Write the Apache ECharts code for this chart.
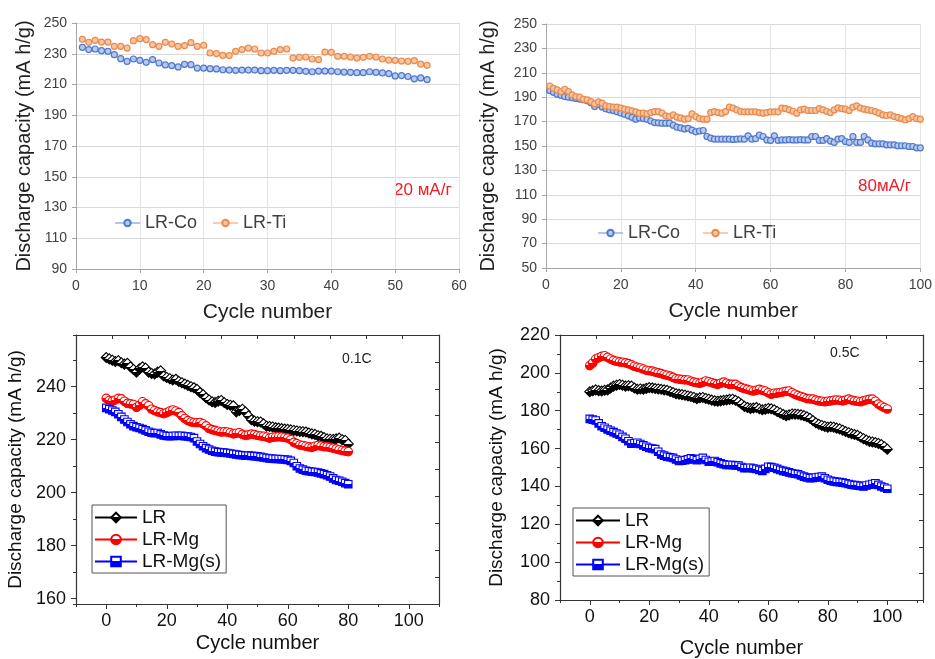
<!DOCTYPE html>
<html>
<head>
<meta charset="utf-8">
<script src="https://cdn.jsdelivr.net/npm/echarts@6/dist/echarts.min.js"></script>
<style>
html, body { margin: 0; padding: 0; background: #fff; }
#chart { width: 935px; height: 659px; }
</style>
</head>
<body>
<div id="chart"></div>
<script>
// top left: 20 mA/g, cycles 1..55
let coLow = [234.2, 232.7, 233.1, 232.0, 231.6, 229.4, 226.8, 225.0, 226.6, 225.7, 224.4, 226.2, 224.0, 222.7, 222.3,
  221.4, 223.1, 222.9, 220.7, 220.7, 220.3, 220.1, 219.6, 219.4, 219.2, 219.4, 219.4, 219.4, 219.0, 219.0,
  219.2, 219.0, 219.2, 219.2, 219.0, 218.6, 218.3, 218.7, 218.7, 218.7, 218.3, 218.1, 217.9, 217.7, 217.7,
  218.3, 217.9, 217.5, 217.1, 215.6, 215.8, 215.2, 213.7, 214.3, 213.2];
let tiLow = [239.4, 237.4, 238.7, 237.6, 237.6, 234.8, 234.8, 233.7, 238.5, 239.8, 239.2, 235.9, 234.8, 237.4, 236.3,
  234.8, 235.3, 237.2, 234.8, 235.5, 230.5, 230.1, 229.0, 228.8, 231.6, 232.7, 233.7, 233.1, 230.5, 230.5,
  231.6, 232.7, 233.1, 227.2, 227.7, 227.9, 226.6, 226.2, 231.1, 230.9, 228.3, 228.3, 227.9, 227.2, 227.7,
  228.3, 227.9, 226.6, 225.9, 225.7, 225.3, 225.1, 225.5, 223.3, 222.5];

// top right: 80 mA/g, cycles 1..100
let coHigh = [195.4, 194.0, 192.5, 191.5, 190.5, 190.0, 189.5, 189.0, 188.5, 188.0, 187.0, 185.5,
  182.3, 184.0, 182.0, 180.5, 179.6, 179.0, 178.0, 177.0, 176.0, 174.7, 173.5, 172.0,
  173.0, 172.5, 172.0, 170.5, 169.2, 169.0, 168.7, 168.7, 168.7, 167.0, 165.4, 164.8,
  164.0, 164.5, 163.0, 161.6, 162.3, 162.7, 157.8, 156.4, 155.6, 155.6, 155.6, 155.6,
  155.6, 155.4, 155.6, 155.8, 155.6, 158.3, 155.6, 156.0, 158.9, 157.8, 155.0, 154.6,
  158.3, 154.6, 155.0, 155.0, 155.2, 155.0, 155.0, 155.2, 155.0, 155.0, 157.8, 157.8,
  154.6, 154.6, 156.1, 154.0, 152.9, 155.6, 156.1, 153.7, 152.9, 157.8, 152.9, 152.9,
  157.8, 155.0, 152.3, 151.8, 151.8, 151.8, 151.0, 151.0, 151.0, 150.2, 150.2, 150.2,
  149.6, 149.6, 148.5, 148.5];
let tiHigh = [199.2, 197.3, 196.0, 194.6, 196.5, 194.6, 191.9, 190.5, 190.0, 188.3, 187.8, 186.4,
  184.5, 186.2, 185.1, 182.9, 182.3, 181.8, 181.8, 181.0, 180.2, 179.6, 178.8, 178.0,
  176.9, 176.9, 176.3, 177.4, 178.2, 178.2, 176.9, 174.7, 174.1, 175.5, 173.6, 173.0,
  172.0, 172.5, 176.3, 174.1, 172.5, 172.0, 172.0, 177.4, 178.2, 177.4, 176.9, 178.2,
  181.8, 181.0, 179.6, 178.2, 178.0, 178.0, 178.0, 178.0, 177.4, 176.9, 177.4, 178.0,
  178.0, 178.0, 181.0, 180.7, 179.6, 178.5, 176.9, 179.6, 180.2, 179.1, 179.1, 179.1,
  180.7, 179.6, 178.5, 177.4, 179.6, 181.2, 180.7, 180.2, 179.1, 181.8, 182.9, 181.0,
  180.2, 179.6, 179.1, 178.2, 176.9, 175.5, 175.0, 175.5, 174.1, 173.3, 172.5, 171.4,
  172.5, 174.1, 172.5, 172.0];

// bottom left: 0.1C, cycles 0..80
let lrSlow = [251.0, 250.5, 250.0, 249.5, 249.8, 249.0, 248.5, 248.8, 247.5, 246.5, 245.5, 246.8, 247.5, 247.0, 245.5,
  245.0, 244.8, 245.5, 246.0, 244.0, 243.5, 243.0, 242.5, 242.8, 242.0, 241.5, 241.0, 240.5, 240.0, 239.6,
  239.0, 237.8, 237.0, 235.8, 235.0, 234.3, 234.0, 234.5, 234.8, 234.0, 233.3, 233.0, 232.8, 230.5, 231.0,
  231.5, 230.5, 229.0, 227.5, 227.0, 226.8, 226.7, 226.0, 225.1, 225.0, 224.8, 224.5, 224.4, 224.2, 224.0,
  223.9, 223.7, 223.5, 223.3, 223.1, 223.0, 222.9, 222.5, 222.2, 222.0, 221.5, 221.3, 220.8, 220.3, 220.2,
  220.1, 220.3, 220.6, 220.0, 219.7, 218.4];
let mgSlow = [235.6, 234.8, 234.5, 235.0, 235.6, 235.4, 234.5, 233.7, 233.5, 233.3, 232.2, 233.0, 234.3, 233.5, 232.8,
  231.5, 231.0, 230.5, 230.2, 229.8, 230.2, 230.8, 231.2, 230.8, 230.2, 229.0, 228.0, 227.2, 226.7, 226.5,
  226.4, 226.5, 226.0, 225.2, 224.2, 223.8, 223.5, 223.2, 222.9, 223.0, 222.9, 222.6, 222.2, 222.4, 222.6,
  222.0, 221.6, 221.8, 222.1, 221.9, 221.6, 221.4, 221.3, 221.0, 220.6, 220.9, 221.0, 221.1, 221.0, 220.8,
  220.6, 220.0, 219.0, 218.5, 218.0, 217.8, 217.5, 217.3, 217.1, 217.5, 217.8, 217.6, 217.4, 217.3, 217.1,
  216.8, 216.5, 216.2, 215.9, 215.7, 215.5];
let mgsSlow = [232.0, 231.5, 231.0, 230.5, 229.6, 228.6, 227.6, 226.7, 225.8, 225.1, 224.7, 224.4, 224.0, 223.5, 223.0,
  222.6, 222.4, 222.5, 222.0, 221.6, 221.4, 221.3, 221.4, 221.5, 221.4, 221.5, 221.3, 221.2, 221.0, 220.6,
  219.3, 218.4, 217.5, 216.8, 216.3, 215.8, 215.5, 215.3, 215.2, 215.1, 215.0, 214.8, 214.6, 214.4, 214.2,
  214.1, 214.0, 214.0, 213.9, 213.8, 213.7, 213.5, 213.3, 213.1, 212.9, 212.8, 212.7, 212.7, 212.6, 212.5,
  212.4, 212.0, 211.2, 210.0, 209.1, 208.7, 208.3, 208.1, 207.9, 207.8, 207.6, 207.3, 207.0, 206.6, 206.1,
  205.4, 204.8, 204.5, 204.1, 203.6, 203.2];

// bottom right: 0.5C, cycles 0..100
let lrFast = [190.0, 190.5, 191.0, 190.6, 190.4, 190.8, 191.0, 192.0, 193.0, 193.5, 193.9, 193.5, 193.0, 193.2, 193.0,
  192.0, 191.3, 191.5, 191.3, 191.8, 192.2, 192.0, 191.7, 191.5, 191.3, 191.0, 190.8, 190.2, 189.6, 189.0,
  188.7, 188.5, 188.2, 187.8, 187.5, 187.0, 186.4, 186.8, 187.0, 186.5, 186.1, 185.6, 185.2, 185.0, 185.2,
  185.5, 185.7, 186.0, 186.1, 185.5, 184.7, 183.5, 182.3, 181.7, 181.2, 181.4, 181.7, 181.0, 180.5, 180.8,
  181.2, 181.0, 180.5, 179.6, 178.8, 178.0, 177.4, 177.8, 178.3, 178.2, 178.1, 177.8, 177.4, 176.8, 176.0,
  174.8, 173.6, 172.8, 172.2, 171.7, 171.3, 171.5, 171.3, 170.8, 170.4, 169.7, 169.0, 168.4, 167.8, 167.4,
  167.0, 166.1, 165.2, 164.5, 163.8, 163.5, 163.2, 162.7, 162.1, 161.0, 159.7];
let mgFast = [203.8, 205.2, 207.3, 208.0, 208.7, 209.0, 208.2, 207.3, 206.6, 206.1, 205.8, 205.6, 205.3, 204.9, 204.2,
  203.5, 203.0, 202.6, 202.0, 201.4, 201.1, 200.9, 200.4, 200.0, 199.6, 199.1, 198.7, 198.3, 197.6, 196.9,
  196.7, 196.5, 196.3, 196.2, 195.6, 195.1, 194.8, 194.4, 195.0, 195.7, 195.3, 194.8, 194.3, 193.9, 194.5,
  195.1, 194.5, 193.9, 193.9, 193.9, 193.0, 192.2, 191.7, 191.3, 190.8, 190.4, 190.8, 191.3, 190.8, 190.4,
  189.5, 188.7, 189.2, 189.3, 189.6, 189.9, 190.2, 190.4, 189.5, 188.7, 188.0, 187.5, 187.0, 186.4, 186.2,
  186.1, 185.6, 185.2, 185.0, 184.7, 185.0, 185.2, 185.5, 185.7, 185.5, 185.2, 185.6, 186.1, 185.6, 185.2,
  185.0, 184.7, 185.2, 185.7, 186.0, 186.1, 185.0, 183.5, 182.5, 181.7, 180.9];
let mgsFast = [175.7, 175.3, 174.8, 173.3, 171.8, 171.0, 170.1, 169.4, 168.7, 168.0, 167.3, 166.2, 165.2, 163.9, 162.6,
  162.8, 163.1, 162.4, 161.7, 161.0, 160.3, 160.0, 159.7, 158.3, 156.9, 156.3, 155.7, 155.4, 155.1, 154.2,
  153.4, 153.6, 153.9, 154.3, 154.8, 154.4, 153.9, 154.5, 155.1, 154.0, 153.0, 153.2, 153.4, 152.8, 152.2,
  151.7, 151.3, 151.3, 151.3, 151.1, 151.0, 150.3, 149.6, 149.7, 149.9, 149.5, 149.2, 148.7, 148.2, 149.3,
  150.4, 150.2, 149.9, 149.3, 148.7, 148.2, 147.8, 147.4, 147.0, 146.7, 146.4, 145.8, 145.2, 144.7, 144.3,
  144.5, 144.7, 145.0, 145.2, 144.3, 143.5, 143.0, 142.6, 142.4, 142.3, 142.0, 141.7, 141.3, 140.9, 140.7,
  140.5, 140.2, 140.0, 140.5, 140.9, 141.3, 141.7, 140.8, 140.0, 139.4, 138.8];

const FONT = 'Arial, "Liberation Sans", sans-serif';

function pairs(arr, start) {
  return arr.map((v, i) => [i + start, v]);
}

// marker filled white on top, colour on the bottom
function half(c) {
  return {
    type: 'linear', x: 0, y: 0, x2: 0, y2: 1,
    colorStops: [
      { offset: 0, color: '#fff' }, { offset: 0.48, color: '#fff' },
      { offset: 0.48, color: c }, { offset: 1, color: c }
    ]
  };
}

function excelX(grid, max, interval, split) {
  return {
    gridIndex: grid, type: 'value', min: 0, max: max, interval: interval,
    name: 'Cycle number', nameLocation: 'middle', nameGap: 33,
    nameTextStyle: { fontSize: 21, color: '#222', fontFamily: FONT },
    axisLine: { onZero: false, lineStyle: { color: '#a6a6a6' } },
    axisTick: { show: true, length: 4, lineStyle: { color: '#a6a6a6' } },
    axisLabel: { fontSize: 14, color: '#404040', margin: 10, fontFamily: FONT },
    splitLine: { show: true, interval: split, lineStyle: { color: '#e4e4e4' } }
  };
}

function excelY(grid, min, gap) {
  return {
    gridIndex: grid, type: 'value', min: min, max: 250, interval: 20,
    name: 'Discharge capacity (mA h/g)', nameLocation: 'middle', nameGap: gap,
    nameTextStyle: { fontSize: 20, color: '#222', fontFamily: FONT },
    axisLine: { show: true, onZero: false, lineStyle: { color: '#a6a6a6' } },
    axisTick: { show: true, length: 4, lineStyle: { color: '#a6a6a6' } },
    axisLabel: { fontSize: 14, color: '#404040', margin: 9, fontFamily: FONT },
    splitLine: { show: true, lineStyle: { color: '#d9d9d9' } }
  };
}

const boxLine = { show: true, onZero: false, lineStyle: { color: '#333', width: 1.2 } };

function originX(grid, max, gap) {
  return [
    {
      gridIndex: grid, type: 'value', position: 'bottom', min: -10, max: max,
      minInterval: 20, maxInterval: 20,
      name: 'Cycle number', nameLocation: 'middle', nameGap: gap,
      nameTextStyle: { fontSize: 20, color: '#111', fontFamily: FONT },
      axisLine: boxLine,
      axisTick: { length: 5, lineStyle: { color: '#333' } },
      axisLabel: { fontSize: 18, color: '#111', margin: 8, showMinLabel: false, showMaxLabel: false, fontFamily: FONT },
      splitLine: { show: false }
    },
    {
      gridIndex: grid, type: 'value', position: 'bottom', min: -10, max: max,
      minInterval: 10, maxInterval: 10,
      axisLine: { show: false, onZero: false },
      axisTick: { length: 3, lineStyle: { color: '#333' } },
      axisLabel: { show: false }, splitLine: { show: false }
    },
    {
      gridIndex: grid, type: 'value', position: 'top', min: 0, max: 100, interval: 10,
      axisLine: boxLine,
      axisTick: { inside: true, length: 4, lineStyle: { color: '#333' } },
      axisLabel: { show: false }, splitLine: { show: false }
    }
  ];
}

function originY(grid, min, max, gap, hideEnds) {
  return [
    {
      gridIndex: grid, type: 'value', position: 'left', min: min, max: max,
      minInterval: 20, maxInterval: 20,
      name: 'Discharge capacity (mA h/g)', nameLocation: 'middle', nameGap: gap,
      nameTextStyle: { fontSize: 19, color: '#111', fontFamily: FONT },
      axisLine: boxLine,
      axisTick: { length: 5, lineStyle: { color: '#333' } },
      axisLabel: { fontSize: 18, color: '#111', margin: 10, showMinLabel: !hideEnds, showMaxLabel: !hideEnds, fontFamily: FONT },
      splitLine: { show: false }
    },
    {
      gridIndex: grid, type: 'value', position: 'left', min: min, max: max,
      minInterval: 10, maxInterval: 10,
      axisLine: { show: false, onZero: false },
      axisTick: { length: 3, lineStyle: { color: '#333' } },
      axisLabel: { show: false }, splitLine: { show: false }
    },
    {
      gridIndex: grid, type: 'value', position: 'right', min: 0, max: 100, interval: 10,
      axisLine: boxLine,
      axisTick: { inside: true, length: 4, lineStyle: { color: '#333' } },
      axisLabel: { show: false }, splitLine: { show: false }
    }
  ];
}

function excelSeries(name, data, x, border, fill, line) {
  return {
    name: name, type: 'line', xAxisIndex: x, yAxisIndex: x, data: data,
    symbol: 'circle', symbolSize: 6,
    itemStyle: { color: fill, borderColor: border, borderWidth: 1.2 },
    lineStyle: { color: line, width: 1 },
    emphasis: { disabled: true }
  };
}

function originSeries(name, data, x, y, color, symbol, size) {
  return {
    name: name, type: 'line', xAxisIndex: x, yAxisIndex: y, data: data,
    symbol: symbol, symbolSize: size,
    itemStyle: { color: half(color), borderColor: color, borderWidth: 1.1 },
    lineStyle: { color: color, width: 1.6 },
    emphasis: { disabled: true }
  };
}

const BLUE = ['#4f79cf', '#b9c9ee', '#b4c5ea'];
const ORANGE = ['#ec8a4c', '#f6c6a2', '#f5ccb0'];

let chart = echarts.init(document.getElementById('chart'));

option = {
  animation: false,
  backgroundColor: '#fff',
  textStyle: { fontFamily: FONT },
  grid: [
    { left: 76, top: 23, width: 383, height: 246 },
    { left: 546, top: 24, width: 375, height: 244 },
    { left: 76, top: 335, width: 363, height: 269 },
    { left: 560, top: 335, width: 363, height: 269 }
  ],
  xAxis: [
    excelX(0, 60, 10, 0),
    excelX(1, 100, 20, 0)
  ].concat(originX(2, 110, 29), originX(3, 112, 38)),
  yAxis: [
    excelY(0, 90, 42),
    excelY(1, 50, 48)
  ].concat(originY(2, 158, 259.5, 51, true), originY(3, 80, 220, 54, false)),
  legend: [
    {
      data: ['LR-Co', 'LR-Ti'], left: 114, top: 214, padding: 0,
      itemWidth: 25, itemHeight: 8, itemGap: 15,
      textStyle: { fontSize: 18, color: '#404040', fontFamily: FONT }
    },
    {
      data: ['LR-Co', 'LR-Ti'], left: 597, top: 224, padding: 0,
      itemWidth: 25, itemHeight: 8, itemGap: 22,
      textStyle: { fontSize: 18, color: '#404040', fontFamily: FONT }
    },
    {
      data: ['LR', 'LR-Mg', 'LR-Mg(s)'], orient: 'vertical', left: 92, top: 505,
      padding: [3, 5, 2, 2], itemWidth: 42, itemHeight: 12, itemGap: 3,
      borderColor: '#555', borderWidth: 1,
      textStyle: { fontSize: 19, lineHeight: 19, color: '#111', fontFamily: FONT }
    },
    {
      data: ['LR', 'LR-Mg', 'LR-Mg(s)'], orient: 'vertical', left: 573, top: 508,
      padding: [3, 5, 2, 2], itemWidth: 44, itemHeight: 12, itemGap: 3,
      borderColor: '#555', borderWidth: 1,
      textStyle: { fontSize: 19, lineHeight: 19, color: '#111', fontFamily: FONT }
    }
  ],
  graphic: [
    { type: 'text', left: 394, top: 182, style: { text: '20 мА/г', fill: '#ee1c25', font: '17px ' + FONT } },
    { type: 'text', left: 858, top: 178, style: { text: '80мА/г', fill: '#ee1c25', font: '17px ' + FONT } },
    { type: 'text', left: 342, top: 352, style: { text: '0.1C', fill: '#222', font: '14px ' + FONT } },
    { type: 'text', left: 830, top: 346, style: { text: '0.5C', fill: '#222', font: '14px ' + FONT } }
  ],
  series: [
    excelSeries('LR-Co', pairs(coLow, 1), 0, BLUE[0], BLUE[1], BLUE[2]),
    excelSeries('LR-Ti', pairs(tiLow, 1), 0, ORANGE[0], ORANGE[1], ORANGE[2]),
    excelSeries('LR-Co', pairs(coHigh, 1), 1, BLUE[0], BLUE[1], BLUE[2]),
    excelSeries('LR-Ti', pairs(tiHigh, 1), 1, ORANGE[0], ORANGE[1], ORANGE[2]),
    originSeries('LR', pairs(lrSlow, 0), 2, 2, '#000000', 'diamond', 10),
    originSeries('LR-Mg', pairs(mgSlow, 0), 2, 2, '#ff0000', 'circle', 8.5),
    originSeries('LR-Mg(s)', pairs(mgsSlow, 0), 2, 2, '#0000ff', 'rect', 7.5),
    originSeries('LR', pairs(lrFast, 0), 5, 5, '#000000', 'diamond', 10),
    originSeries('LR-Mg', pairs(mgFast, 0), 5, 5, '#ff0000', 'circle', 8.5),
    originSeries('LR-Mg(s)', pairs(mgsFast, 0), 5, 5, '#0000ff', 'rect', 7.5)
  ]
};

chart.setOption(option);
</script>
</body>
</html>
